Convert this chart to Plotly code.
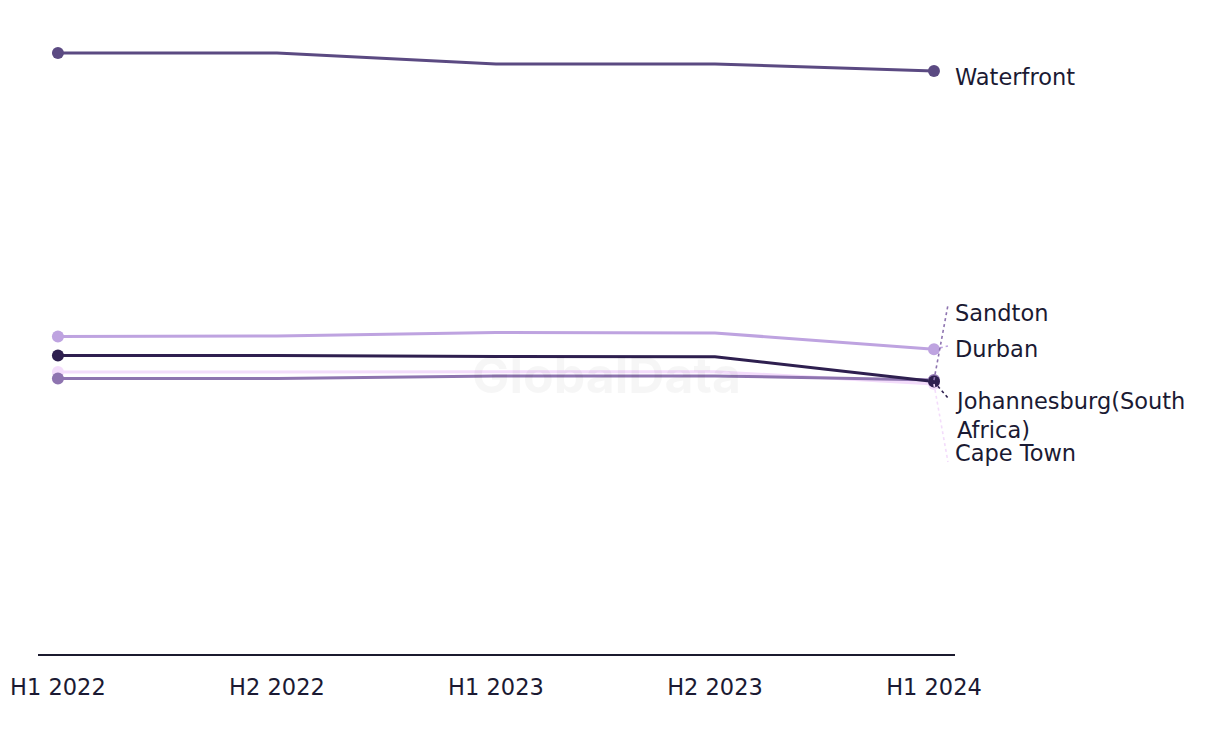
import plotly.graph_objects as go

periods = ["H1 2022", "H2 2022", "H1 2023", "H2 2023", "H1 2024"]
waterfront = [200.3, 200.3, 196.7, 196.7, 194.3]
durban = [105.8, 106.0, 107.2, 107.0, 101.6]
johannesburg = [99.5, 99.5, 99.2, 99.1, 90.8]
cape_town = [94.0, 94.0, 94.0, 94.1, 90.0]
sandton = [91.8, 91.8, 92.7, 92.7, 91.3]

series = [
    ("Waterfront", waterfront, "#5b4a82"),
    ("Durban", durban, "#bea3e0"),
    ("Cape Town", cape_town, "#f3dcfb"),
    ("Sandton", sandton, "#8e74b0"),
    ("Johannesburg(South<br>Africa)", johannesburg, "#2e1f4f"),
]

# label positions (pixel rows of the label centres on the page)
label_rows = {
    "Waterfront": 77,
    "Sandton": 313,
    "Durban": 349,
    "Johannesburg(South<br>Africa)": 415,
    "Cape Town": 453,
}
leader_end_rows = {
    "Sandton": 305,
    "Durban": 346,
    "Johannesburg(South<br>Africa)": 398,
    "Cape Town": 462,
}

OFF = 8  # page body margin
T, B = 20 - OFF, 90 + OFF
H = 744
AXIS_ROW = 654
YMAX = (AXIS_ROW - 20) / 3.0


def row_to_val(r):
    return (AXIS_ROW - r) / 3.0


FONT = "DejaVu Sans, Verdana, sans-serif"
text_col = "#1b1a33"
fig = go.Figure()
xi = list(range(len(periods)))
for name, vals, col in series:
    fig.add_trace(go.Scatter(
        x=xi, y=vals, mode="lines", line=dict(color=col, width=3),
        hoverinfo="skip", showlegend=False))
for name, vals, col in series:
    fig.add_trace(go.Scatter(
        x=[xi[0], xi[-1]], y=[vals[0], vals[-1]], mode="markers",
        marker=dict(color=col, size=12), hoverinfo="skip", showlegend=False))

for name, vals, col in series:
    if name in leader_end_rows:
        fig.add_shape(type="line", xref="x", yref="y",
                      x0=xi[-1], y0=vals[-1],
                      x1=xi[-1] + 14 / 219.0, y1=row_to_val(leader_end_rows[name]),
                      line=dict(color=col, width=1.6, dash="3px,3px"))
    fig.add_annotation(
        x=xi[-1], y=row_to_val(label_rows[name]), xref="x", yref="y",
        text=name, showarrow=False, xanchor="left", yanchor="middle",
        xshift=19, align="left",
        font=dict(family=FONT, size=22.5, color=text_col))

fig.add_annotation(
    x=0.62, y=row_to_val(375) / YMAX, xref="paper", yref="paper",
    text="<b>GlobalData</b>", showarrow=False,
    font=dict(family="Inter, sans-serif", size=50, color="rgba(0,0,0,0.035)"))

fig.update_layout(
    width=1220, height=744,
    margin=dict(l=38 - OFF, r=265 + OFF, t=T, b=B, autoexpand=False),
    plot_bgcolor="white", paper_bgcolor="white",
    xaxis=dict(
        tickmode="array", tickvals=xi, ticktext=periods, automargin=False,
        range=[-0.091, 4.096], showgrid=False, zeroline=False,
        showline=True, linecolor="#1b1a2e", linewidth=2,
        ticks="", ticklabelstandoff=12,
        tickfont=dict(family=FONT, size=22.5, color=text_col)),
    yaxis=dict(range=[0, YMAX], visible=False, showgrid=False, zeroline=False,
               automargin=False),
)

fig.write_html("out.html")
